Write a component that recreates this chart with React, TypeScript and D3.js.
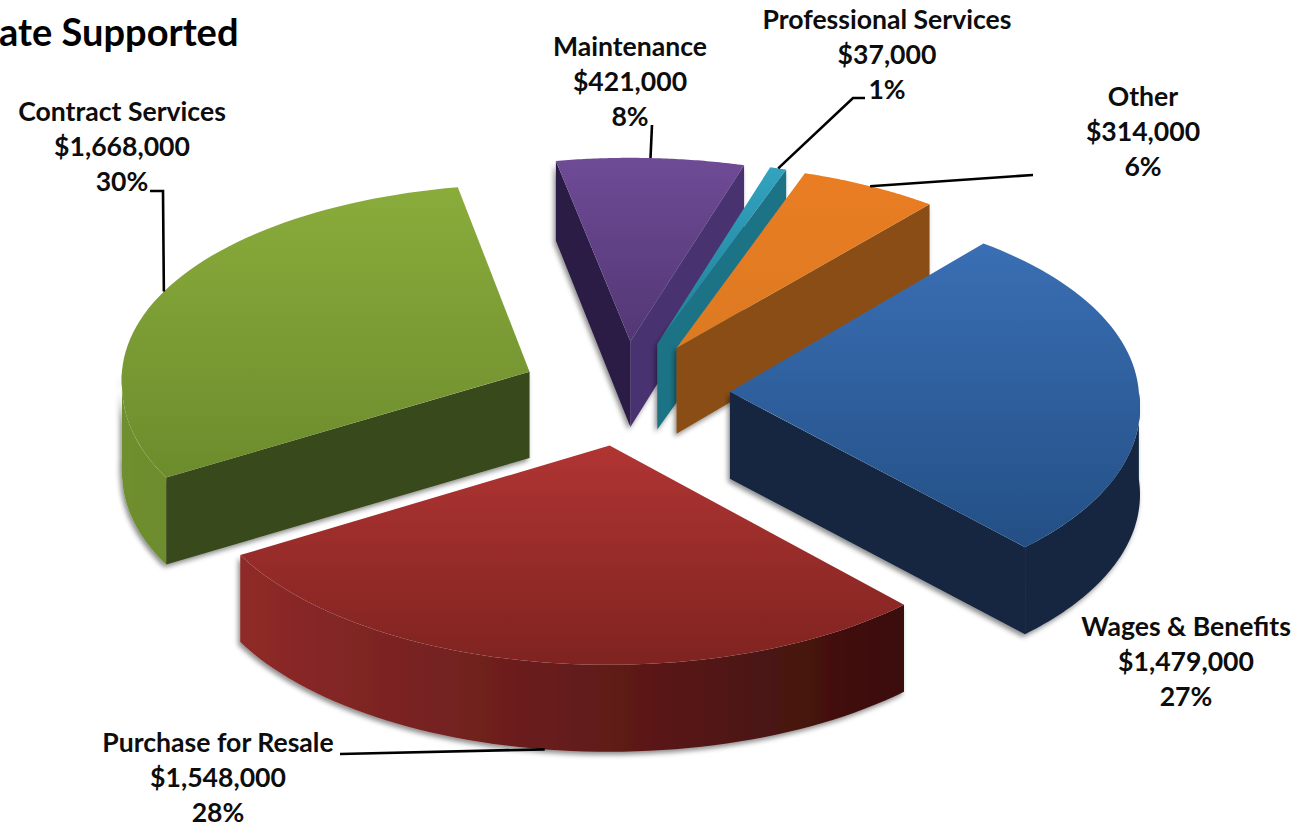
import * as d3 from "d3";

const categories = ["Maintenance", "Professional Services", "Other", "Wages & Benefits", "Purchase for Resale", "Contract Services"];
const values = [421000, 37000, 314000, 1479000, 1548000, 1668000];
const percents = ["8%", "1%", "6%", "27%", "28%", "30%"];

// top face gradient (far -> near), radial wall colours, outer wall gradient (left -> right)
const topColors = [["#6f4b96", "#523774"], ["#33a3bf", "#1f7f96"], ["#ea7d22", "#dc7a22"], ["#3a6fb4", "#234f85"], ["#b03533", "#7f2320"], ["#8aac3b", "#6c8c2d"]];
const startWallColors = ["#2c1d44", "#1e7385", "#8a4c12", "#12263f", "#3d0f0d", "#38481a"];
const endWallColors = ["#4a3070", "#1e7385", "#8a4e14", "#12263f", "#3d0f0d", "#38481a"];
const outerColors = [["#2c1d44", "#2c1d44"], ["#1e7385", "#1e7385"], ["#8a4c12", "#8a4c12"], ["#12263f", "#12263f"], ["#8f2a29", "#3a0e0c"], ["#6f8f2e", "#5c7a24"]];

const width = 1298;
const height = 828;

// pie geometry, the plan is tilted and seen with a bit of perspective
const cx = 625;
const cy = 393;
const tilt = 0.5;
const radius = 409;
const explode = 105;
const depth = 87;
const startDeg = -10.9;

// the source chart is not a clean projection, far and near halves shrink differently
const perspX = { far: 0.00008, near: 0.00015 };
const perspY = { far: 0.00018, near: 0.00011 };

const labelFont = "Lato, 'Open Sans', sans-serif";
const labelSize = 26.6;
const lineGap = 35;

// label centre x, first baseline, leader elbows running from the label to the slice
const labelLayout = [
  { x: 630, y: 56, leader: [[652, 125]], bottom: false },
  { x: 887, y: 29, leader: [[865, 98], [853, 98]], bottom: false },
  { x: 1143, y: 106, leader: [[1033, 175]], bottom: false },
  { x: 1186, y: 636, leader: [], bottom: false },
  { x: 218, y: 752, leader: [[340, 754]], bottom: true },
  { x: 122, y: 121, leader: [[150, 191], [163, 191]], bottom: false },
];

const project = (X: number, Y: number, z = 0): [number, number] => {
  const sx = 1 / (1 + (Y > 0 ? perspX.far : perspX.near) * Y);
  const sy = 1 / (1 + (Y > 0 ? perspY.far : perspY.near) * Y);
  return [cx + X * sx, cy - tilt * Y * sy + z * Math.min(1, sy)];
};

const pie = d3
  .pie<number>()
  .sort(null)
  .startAngle((startDeg * Math.PI) / 180)
  .endAngle((startDeg * Math.PI) / 180 + 2 * Math.PI);

const line = d3.line();

export default function App() {
  const slices = pie(values).map((d, i) => {
    const mid = (d.startAngle + d.endAngle) / 2;
    const ax = explode * Math.sin(mid);
    const ay = explode * Math.cos(mid);
    const rim = (a: number, z = 0) => project(ax + radius * Math.sin(a), ay + radius * Math.cos(a), z);
    const apex = (z = 0) => project(ax, ay, z);
    const arcPts = (a0: number, a1: number, z = 0) =>
      d3.range(0, 61).map((k) => rim(a0 + ((a1 - a0) * k) / 60, z));
    return { i, mid, a0: d.startAngle, a1: d.endAngle, rim, apex, arcPts };
  });

  const order = [0, 1, 2, 5, 3, 4];

  return (
    <svg
      width={width}
      height={height}
      style={{ position: "absolute", left: 0, top: 0, background: "#fff" }}
    >
      <defs>
        <filter id="soft" x="-10%" y="-10%" width="120%" height="120%">
          <feDropShadow dx={-2} dy={3} stdDeviation={2.5} floodColor="#000" floodOpacity={0.45} />
        </filter>
        {slices.map((s) => {
          const ys = s.arcPts(s.a0, s.a1).concat([s.apex()]).map((p) => p[1]);
          const xs = s.arcPts(s.a0, s.a1).map((p) => p[0]);
          return (
            <g key={s.i}>
              <linearGradient id={`top${s.i}`} gradientUnits="userSpaceOnUse" x1={0} x2={0} y1={d3.min(ys)} y2={d3.max(ys)}>
                <stop offset="0" stopColor={topColors[s.i][0]} />
                <stop offset="1" stopColor={topColors[s.i][1]} />
              </linearGradient>
              <linearGradient id={`outer${s.i}`} gradientUnits="userSpaceOnUse" y1={0} y2={0} x1={d3.min(xs)} x2={d3.max(xs)}>
                <stop offset="0" stopColor={outerColors[s.i][0]} />
                <stop offset="1" stopColor={outerColors[s.i][1]} />
              </linearGradient>
            </g>
          );
        })}
      </defs>

      <text x={-1} y={46} fontFamily={labelFont} fontWeight={700} fontSize={38} fill="#000">
        ate Supported
      </text>

      {order.map((idx) => {
        const s = slices[idx];
        const lo = Math.max(s.a0, Math.PI / 2);
        const hi = Math.min(s.a1, (3 * Math.PI) / 2);
        const showStart = Math.sin(s.a0) < 0;
        const showEnd = Math.sin(s.a1) > 0;
        const wall = (a: number) => line([s.apex(), s.rim(a), s.rim(a, depth), s.apex(depth)]) + "Z";
        const top = line([s.apex(), ...s.arcPts(s.a0, s.a1)]) + "Z";
        return (
          <g key={idx}>
            <g filter="url(#soft)">
              {hi > lo && (
                <path
                  d={line([...s.arcPts(lo, hi), ...s.arcPts(lo, hi, depth).reverse()]) + "Z"}
                  fill={`url(#outer${idx})`}
                />
              )}
              {showStart && <path d={wall(s.a0)} fill={startWallColors[idx]} />}
              {showEnd && <path d={wall(s.a1)} fill={endWallColors[idx]} />}
            </g>
            <path d={top} fill={`url(#top${idx})`} />
          </g>
        );
      })}

      {slices.map((s) => {
        const lay = labelLayout[s.i];
        if (!lay.leader.length) return null;
        const anchor = lay.bottom ? s.rim(s.mid, depth) : s.rim(s.mid);
        return (
          <path
            key={s.i}
            d={line([...(lay.leader as [number, number][]), anchor]) ?? ""}
            fill="none"
            stroke="#000"
            strokeWidth={2.6}
          />
        );
      })}

      {slices.map((s) => {
        const lay = labelLayout[s.i];
        const rows = [categories[s.i], d3.format("$,")(values[s.i]), percents[s.i]];
        return (
          <text
            key={s.i}
            textAnchor="middle"
            fontFamily={labelFont}
            fontWeight={700}
            fontSize={labelSize}
            fill="#0d0d0d"
          >
            {rows.map((r, k) => (
              <tspan key={k} x={lay.x} y={lay.y + k * lineGap}>
                {r}
              </tspan>
            ))}
          </text>
        );
      })}
    </svg>
  );
}
